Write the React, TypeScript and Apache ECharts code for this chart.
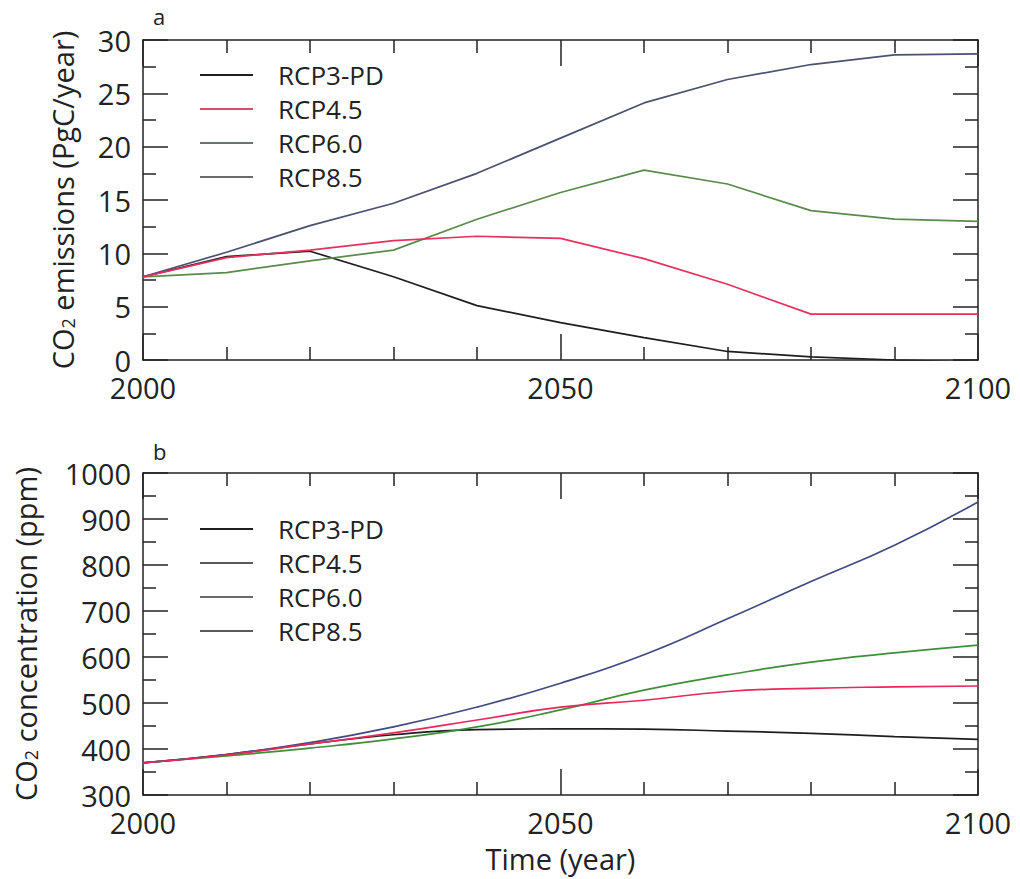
import React, { useEffect, useRef } from "react";
import * as echarts from "echarts";

const years = [2000, 2010, 2020, 2030, 2040, 2050, 2060, 2070, 2080, 2090, 2100];

// Panel a: CO2 emissions (PgC/year)
const emisRCP3PD = [7.8, 9.7, 10.2, 7.8, 5.1, 3.5, 2.1, 0.8, 0.3, 0.0, -0.2];
const emisRCP45 = [7.8, 9.6, 10.3, 11.2, 11.6, 11.4, 9.5, 7.1, 4.3, 4.3, 4.3];
const emisRCP60 = [7.8, 8.2, 9.3, 10.3, 13.2, 15.7, 17.8, 16.5, 14.0, 13.2, 13.0];
const emisRCP85 = [7.8, 10.1, 12.6, 14.7, 17.5, 20.8, 24.1, 26.3, 27.7, 28.6, 28.7];

// Panel b: CO2 concentration (ppm)
const concRCP3PD = [370, 388, 411, 431, 442, 444, 443, 439, 434, 427, 421];
const concRCP45 = [370, 387, 411, 435, 463, 491, 506, 525, 532, 535, 537];
const concRCP60 = [370, 385, 402, 422, 448, 485, 528, 561, 589, 609, 626];
const concRCP85 = [370, 388, 414, 448, 491, 543, 605, 683, 764, 843, 937];

const names = ["RCP3-PD", "RCP4.5", "RCP6.0", "RCP8.5"];
const xLabelTicks = [2000, 2050, 2100];

const FONT = "Open Sans";
const INK = "#222222";

const pair = (vals: number[]) => years.map((y, i) => [y, vals[i]]);

export default function App() {
  const ref = useRef<HTMLDivElement>(null);
  useEffect(() => {
    if (!ref.current) return;
    const chart = echarts.init(ref.current, null, { renderer: "svg" });

    const axisLine = { show: true, onZero: false, lineStyle: { color: INK, width: 1.5 } };
    const xBase = (gridIndex: number, position: string, labels: boolean, extra: any = {}) => ({
      type: "value",
      gridIndex,
      position,
      min: 2000,
      max: 2100,
      interval: 50,
      axisLine,
      axisTick: { show: true, inside: true, length: 26, lineStyle: { color: INK, width: 1.5 } },
      minorTick: { show: true, splitNumber: 5, length: 13, lineStyle: { color: INK, width: 1.5 } },
      axisLabel: {
        show: labels,
        fontSize: 29,
        lineHeight: 22,
        fontFamily: FONT,
        color: INK,
        margin: 16,
        formatter: (v: number) => (xLabelTicks.includes(v) ? String(v) : ""),
      },
      splitLine: { show: false },
      minorSplitLine: { show: false },
      ...extra,
    });
    const yBase = (
      gridIndex: number,
      position: string,
      labels: boolean,
      min: number,
      max: number,
      interval: number,
      extra: any = {}
    ) => ({
      type: "value",
      gridIndex,
      position,
      min,
      max,
      interval,
      axisLine,
      axisTick: { show: true, inside: true, length: 25, lineStyle: { color: INK, width: 1.5 } },
      minorTick: { show: true, splitNumber: 2, length: 13, lineStyle: { color: INK, width: 1.5 } },
      axisLabel: {
        show: labels,
        fontSize: 29,
        lineHeight: 20,
        fontFamily: FONT,
        color: INK,
        margin: 12,
        formatter: (v: number) => String(v),
      },
      splitLine: { show: false },
      minorSplitLine: { show: false },
      ...extra,
    });

    const nameStyle = {
      fontSize: 29,
      fontFamily: FONT,
      color: INK,
      rich: {
        sub: { fontSize: 18, fontFamily: FONT, color: INK, verticalAlign: "bottom", lineHeight: 18 },
      },
    };

    const colorsA = ["#1e1e1e", "#e8305e", "#5a8a4c", "#4a5272"];
    const colorsB = ["#1e1e1e", "#e8285a", "#3f8f3a", "#3f4a82"];
    const legendA = ["#1e1e1e", "#e04a70", "#66786a", "#6a6a6a"];
    const legendB = ["#1e1e1e", "#5a5a5a", "#6a6a6a", "#5a5a5a"];

    const emis = [emisRCP3PD, emisRCP45, emisRCP60, emisRCP85];
    const conc = [concRCP3PD, concRCP45, concRCP60, concRCP85];

    const legendCfg = (top: number, cols: string[]) => ({
      top,
      left: 195,
      orient: "vertical",
      icon: "rect",
      itemWidth: 53,
      itemHeight: 2,
      itemGap: 8,
      selectedMode: false,
      textStyle: { fontSize: 26, lineHeight: 26, fontFamily: FONT, color: INK, padding: [0, 0, 0, 20] },
      data: names.map((n, i) => ({
        name: n,
        icon: "rect",
        itemStyle: { color: cols[i] },
      })),
    });

    const series: any[] = [];
    names.forEach((n, i) => {
      series.push({
        name: n,
        type: "line",
        xAxisIndex: 0,
        yAxisIndex: 0,
        symbol: "none",
        data: pair(emis[i]),
        lineStyle: { color: colorsA[i], width: 1.7 },
        itemStyle: { color: colorsA[i] },
        z: i === 1 ? 5 : 3,
      });
    });
    names.forEach((n, i) => {
      series.push({
        name: n,
        type: "line",
        xAxisIndex: 2,
        yAxisIndex: 2,
        symbol: "none",
        smooth: true,
        data: pair(conc[i]),
        lineStyle: { color: colorsB[i], width: 1.7 },
        itemStyle: { color: colorsB[i] },
        z: i === 1 ? 5 : 3,
      });
    });

    chart.setOption({
      animation: false,
      backgroundColor: "#ffffff",
      textStyle: { fontFamily: FONT },
      grid: [
        { left: 143, top: 40, width: 835, height: 320 },
        { left: 143, top: 473, width: 835, height: 322 },
      ],
      xAxis: [
        xBase(0, "bottom", true),
        xBase(0, "top", false),
        xBase(1, "bottom", true, {
          name: "Time (year)",
          nameLocation: "middle",
          nameGap: 49,
          nameTextStyle: { fontSize: 29, lineHeight: 29, fontFamily: FONT, color: INK },
        }),
        xBase(1, "top", false),
      ],
      yAxis: [
        yBase(0, "left", true, 0, 30, 5, {
          name: "CO{sub|2} emissions (PgC/year)",
          nameLocation: "middle",
          nameGap: 66,
          nameRotate: 90,
          nameMoveOverlap: false,
          nameTextStyle: nameStyle,
        }),
        yBase(0, "right", false, 0, 30, 5),
        yBase(1, "left", true, 300, 1000, 100, {
          name: "CO{sub|2} concentration (ppm)",
          nameLocation: "middle",
          nameGap: 103,
          nameRotate: 90,
          nameMoveOverlap: false,
          nameTextStyle: nameStyle,
        }),
        yBase(1, "right", false, 300, 1000, 100),
      ],
      legend: [legendCfg(57, legendA), legendCfg(511, legendB)],
      graphic: [
        { type: "text", left: 153, top: 5, style: { text: "a", fontSize: 22, fontFamily: FONT, fill: INK } },
        { type: "text", left: 153, top: 440, style: { text: "b", fontSize: 22, fontFamily: FONT, fill: INK } },
      ],
      series,
    });

    return () => chart.dispose();
  }, []);

  return (
    <div
      ref={ref}
      style={{ position: "fixed", left: 0, top: 0, width: 1020, height: 879, background: "#fff" }}
    />
  );
}
